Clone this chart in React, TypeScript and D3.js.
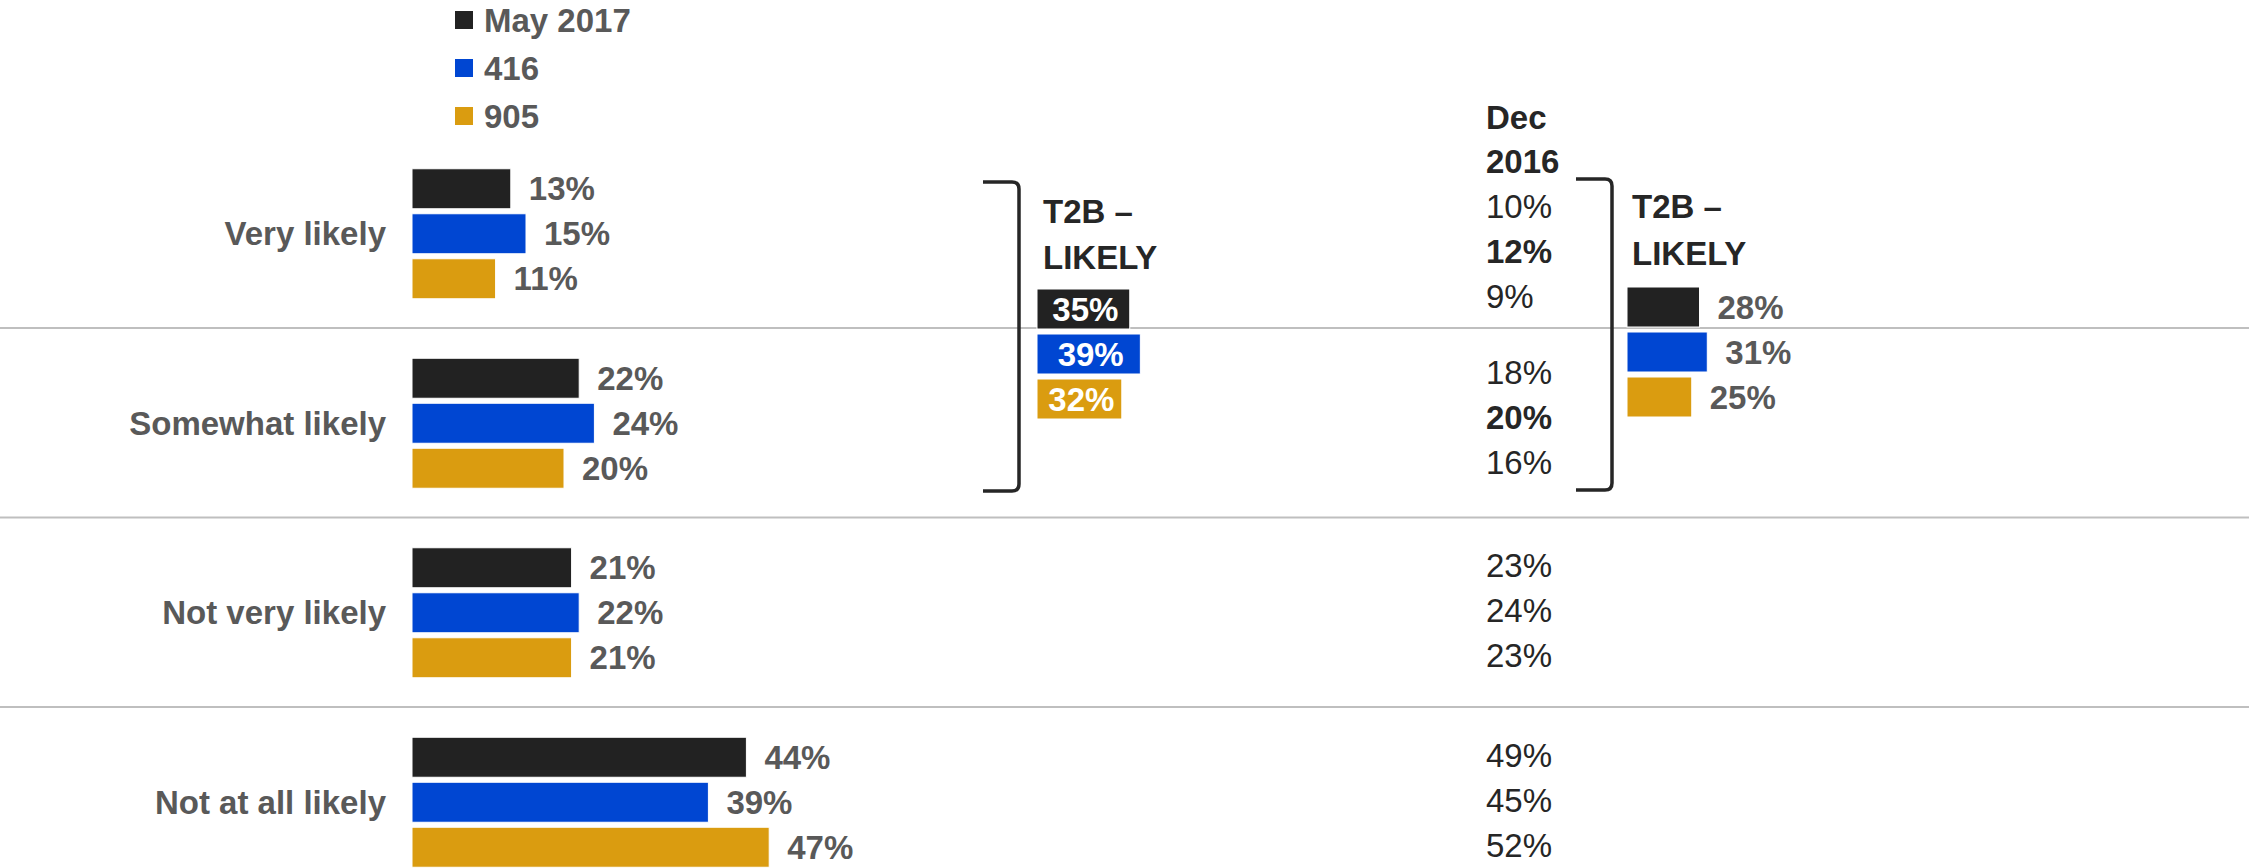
import React from "react";
import * as d3 from "d3";

const categories = ["Very likely", "Somewhat likely", "Not very likely", "Not at all likely"];
const seriesNames = ["May 2017", "416", "905"];
const may2017 = [13, 22, 21, 44];
const s416 = [15, 24, 22, 39];
const s905 = [11, 20, 21, 47];
const dec2016May = [10, 18, 23, 49];
const dec2016_416 = [12, 20, 24, 45];
const dec2016_905 = [9, 16, 23, 52];
const t2bMay2017 = [35, 39, 32];
const t2bDec2016 = [28, 31, 25];
const t2bTitle = ["T2B –", "LIKELY"];
const decTitle = ["Dec", "2016"];

const colors = ["#222222", "#0046D2", "#DA9C10"];
const W = 2249;
const H = 868;
const FONT = "'Liberation Sans', Arial, sans-serif";
const GRAY = "#595959";
const DARK = "#262626";
const FS = 33;

export default function App() {
  const mainValues = [may2017, s416, s905];
  const decValues = [dec2016May, dec2016_416, dec2016_905];

  const yBand = d3.scaleBand<string>().domain(categories).range([139, 139 + 4 * 189.5]);
  const ySeries = d3.scaleBand<string>().domain(seriesNames).range([0, 130]).paddingInner(5 / 45);
  const groupOffset = (yBand.bandwidth() - 130) / 2;
  const x = d3.scaleLinear().domain([0, 100]).range([412, 412 + 760]);

  const xT2bLeft = d3.scaleLinear().domain([0, 100]).range([1037, 1037 + 265]);
  const xT2bRight = d3.scaleLinear().domain([0, 100]).range([1627, 1627 + 259]);
  const yT2bLeft = d3.scaleBand<string>().domain(seriesNames).range([289, 419]).paddingInner(5 / 45);
  const yT2bRight = d3.scaleBand<string>().domain(seriesNames).range([287, 417]).paddingInner(5 / 45);

  const decRowOffsets = [29, 6, 9, 10];
  const bw = ySeries.bandwidth();

  const bracket = (xArm: number, xV: number, y0: number, y1: number) => {
    const r = 7;
    return `M${xArm},${y0} L${xV - r},${y0} Q${xV},${y0} ${xV},${y0 + r} L${xV},${y1 - r} Q${xV},${y1} ${xV - r},${y1} L${xArm},${y1}`;
  };

  return (
    <svg
      width={W}
      height={H}
      style={{ position: "absolute", left: 0, top: 0, background: "#fff" }}
      fontFamily={FONT}
    >
      <rect x={0} y={0} width={W} height={H} fill="#fff" />
      {/* gridlines between categories */}
      {categories.slice(1).map((c) => (
        <line
          key={"g" + c}
          x1={0}
          x2={W}
          y1={(yBand(c) as number) - 0.5}
          y2={(yBand(c) as number) - 0.5}
          stroke="#BFBFBF"
          strokeWidth={2}
        />
      ))}

      {/* legend */}
      {seriesNames.map((s, i) => (
        <g key={"lg" + s}>
          <rect x={455} y={11 + i * 48} width={18} height={18} fill={colors[i]} />
          <text x={484} y={20 + i * 48} dy="0.35em" fontSize={FS} fontWeight="bold" fill={GRAY}>
            {s}
          </text>
        </g>
      ))}

      {/* main bars */}
      {categories.map((c, ci) => {
        const y0 = (yBand(c) as number) + groupOffset;
        return (
          <g key={"c" + c}>
            <text
              x={386}
              y={(yBand(c) as number) + yBand.bandwidth() / 2}
              dy="0.35em"
              textAnchor="end"
              fontSize={FS}
              fontWeight="bold"
              fill={GRAY}
            >
              {c}
            </text>
            {seriesNames.map((s, si) => {
              const v = mainValues[si][ci];
              const yy = y0 + (ySeries(s) as number);
              return (
                <g key={s}>
                  <rect
                    x={x(0)}
                    y={yy}
                    width={x(v) - x(0)}
                    height={bw}
                    fill={colors[si]}
                    stroke="#ffffff"
                    strokeWidth={1}
                  />
                  <text x={x(v) + 18} y={yy + bw / 2} dy="0.35em" fontSize={FS} fontWeight="bold" fill={GRAY}>
                    {v}%
                  </text>
                </g>
              );
            })}
            {seriesNames.map((s, si) => {
              const v = decValues[si][ci];
              const yy = y0 + (ySeries(s) as number) + bw / 2 + decRowOffsets[ci];
              const bold = si === 1 && ci < 2;
              return (
                <text
                  key={"d" + s}
                  x={1486}
                  y={yy}
                  fontSize={FS}
                  fontWeight={bold ? "bold" : "normal"}
                  fill={DARK}
                >
                  {v}%
                </text>
              );
            })}
          </g>
        );
      })}

      {/* Dec 2016 header */}
      {decTitle.map((t, i) => (
        <text key={"dt" + i} x={1486} y={129 + i * 44} fontSize={FS} fontWeight="bold" fill={DARK}>
          {t}
        </text>
      ))}

      {/* brackets */}
      <path d={bracket(983, 1019, 182, 491)} fill="none" stroke={DARK} strokeWidth={3.5} />
      <path d={bracket(1576, 1612, 179, 490)} fill="none" stroke={DARK} strokeWidth={3.5} />

      {/* T2B titles */}
      {t2bTitle.map((t, i) => (
        <g key={"tt" + i}>
          <text x={1043} y={223 + i * 46} fontSize={FS} fontWeight="bold" fill={DARK}>
            {t}
          </text>
          <text x={1632} y={218 + i * 47} fontSize={FS} fontWeight="bold" fill={DARK}>
            {t}
          </text>
        </g>
      ))}

      {/* T2B left (May 2017) */}
      {seriesNames.map((s, si) => {
        const v = t2bMay2017[si];
        const yy = yT2bLeft(s) as number;
        const w = xT2bLeft(v) - xT2bLeft(0);
        return (
          <g key={"tl" + s}>
            <rect x={xT2bLeft(0)} y={yy} width={w} height={yT2bLeft.bandwidth()} fill={colors[si]} stroke="#fff" strokeWidth={1} />
            <text
              x={xT2bLeft(0) + w / 2 + 2}
              y={yy + yT2bLeft.bandwidth() / 2}
              dy="0.35em"
              textAnchor="middle"
              fontSize={FS}
              fontWeight="bold"
              fill="#ffffff"
            >
              {v}%
            </text>
          </g>
        );
      })}

      {/* T2B right (Dec 2016) */}
      {seriesNames.map((s, si) => {
        const v = t2bDec2016[si];
        const yy = yT2bRight(s) as number;
        return (
          <g key={"tr" + s}>
            <rect
              x={xT2bRight(0)}
              y={yy}
              width={xT2bRight(v) - xT2bRight(0)}
              height={yT2bRight.bandwidth()}
              fill={colors[si]}
              stroke="#fff"
              strokeWidth={1}
            />
            <text
              x={xT2bRight(v) + 18}
              y={yy + yT2bRight.bandwidth() / 2}
              dy="0.35em"
              fontSize={FS}
              fontWeight="bold"
              fill={GRAY}
            >
              {v}%
            </text>
          </g>
        );
      })}
    </svg>
  );
}
